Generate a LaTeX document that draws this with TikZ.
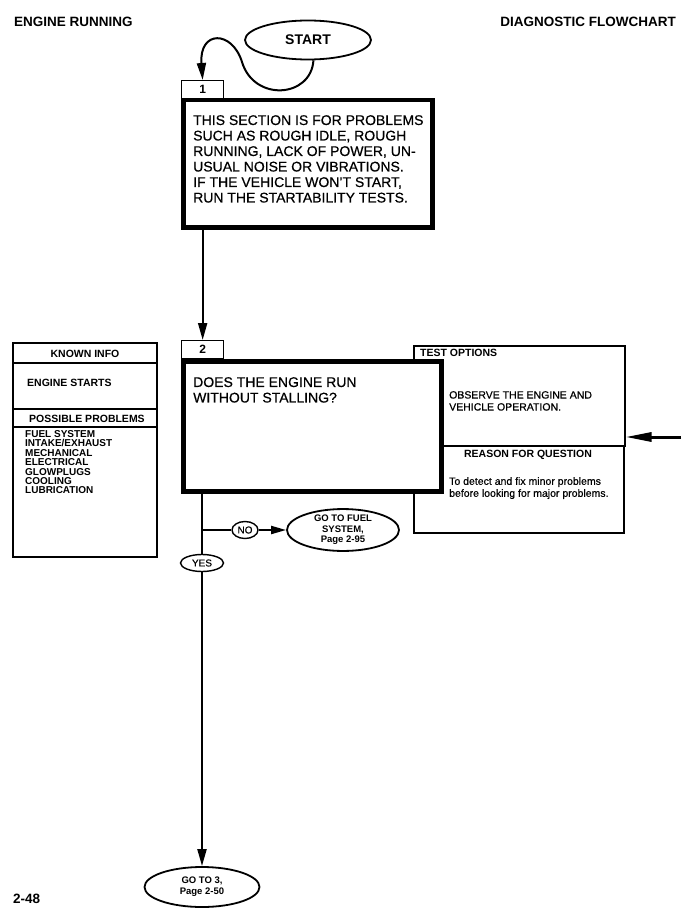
\documentclass[tikz,border=0pt]{standalone}
\usepackage{fontspec}
\setmainfont{Liberation Sans}[UprightFeatures={FakeBold=0.5}]
\usetikzlibrary{arrows.meta,shapes.geometric,calc}
\begin{document}
\begin{tikzpicture}[x=1pt,y=-1pt,
  hdr/.style={font=\fontsize{13.5}{15}\selectfont\bfseries, inner sep=0},
  thickbox/.style={draw, line width=4.5pt, fill=white, rectangle, inner sep=0, anchor=north west},
  tabbox/.style={draw, line width=1.3pt, fill=white, rectangle, inner sep=0, anchor=north west, minimum width=42pt, minimum height=18pt, font=\fontsize{12}{12}\selectfont\bfseries},
  thinbox/.style={draw, line width=1.4pt, rectangle, inner sep=0, anchor=north west},
  bubble/.style={draw, line width=1.8pt, ellipse, fill=white, inner sep=0, align=center},
  smallbubble/.style={draw, line width=1.4pt, ellipse, fill=white, inner sep=0, font=\fontsize{10}{10}\selectfont},
  conn/.style={line width=2pt},
  arr/.style={conn, -{Triangle[length=17pt,width=9pt]}},
  btext/.style={font=\fontsize{14}{15.5}\selectfont, align=left, inner sep=0, anchor=north west},
  ptext/.style={font=\fontsize{10}{9.4}\selectfont\bfseries, align=left, inner sep=0},
  phead/.style={font=\fontsize{10.5}{10.5}\selectfont\bfseries, inner sep=0},
  rtext/.style={font=\fontsize{10.5}{12}\selectfont, align=left, inner sep=0, anchor=north west},
]
\fill[white] (0,0) rectangle (689,920);
\useasboundingbox (0,0) rectangle (689,920);

% headers
\node[hdr, anchor=west] (h1) at (14,22) {ENGINE RUNNING};
\node[hdr, anchor=east] (h2) at (676,22) {DIAGNOSTIC FLOWCHART};
\node[hdr, anchor=west] (pg) at (13,899) {2-48};

% start
\node[bubble, minimum width=126pt, minimum height=39pt, font=\fontsize{14}{14}\selectfont\bfseries] (start) at (308,40) {START};

% box 1
\node[tabbox] (tab1) at (181,80) {1};
\node[thickbox, minimum width=249pt, minimum height=127pt] (box1) at (181,98) {};
\node[btext] (t1) at (193,115) {THIS SECTION IS FOR PROBLEMS\\SUCH AS ROUGH IDLE, ROUGH\\RUNNING, LACK OF POWER, UN-\\USUAL NOISE OR VIBRATIONS.\\IF THE VEHICLE WON'T START,\\RUN THE STARTABILITY TESTS.};

\draw[arr] (start.285) .. controls (311,98) and (254,102) .. (242,62) .. controls (232,30) and (199,30) .. (tab1.north);

% left panel
\draw[line width=1.4pt] (13,343) rectangle (157,557);
\draw[line width=1.4pt] (13,363) -- (157,363);
\draw[line width=1.4pt] (13,409) -- (157,409);
\draw[line width=1.4pt] (13,427) -- (157,427);
\node[phead] (kinfo) at (85,353.5) {KNOWN INFO};
\node[phead, anchor=west] (kstart) at (27,383) {ENGINE STARTS};
\node[phead] (pp) at (87,418.5) {POSSIBLE PROBLEMS};
\node[ptext, anchor=north west] (plist) at (25,430.3) {FUEL SYSTEM\\INTAKE/EXHAUST\\MECHANICAL\\ELECTRICAL\\GLOWPLUGS\\COOLING\\LUBRICATION};

% right panel
\node[thinbox, line width=1.5pt, minimum width=211pt, minimum height=100pt] (topt) at (413,345) {};
\node[thinbox, line width=1.5pt, minimum width=210pt, minimum height=87pt] (reason) at (413,445) {};
\node[phead, anchor=west] (tot) at (420,353) {TEST OPTIONS};
\node[rtext] (tob) at (449,391) {OBSERVE THE ENGINE AND\\VEHICLE OPERATION.};
\node[phead] (rq) at (528,455) {REASON FOR QUESTION};
\node[rtext] (rqt) at (449,477) {To detect and fix minor problems\\before looking for major problems.};
\coordinate (rin) at (681,437);
\draw[line width=3pt, -{Triangle[length=26pt,width=9pt]}] (rin) -- (rin -| topt.east);

% box 2
\draw[arr] (box1.south -| tab1.north) -- (tab1.north |- 0,340);
\node[tabbox] (tab2) at (181,340) {2};
\node[thickbox, minimum width=258pt, minimum height=130pt] (box2) at (181,359) {};
\node[btext] (t2) at (193,377) {DOES THE ENGINE RUN\\WITHOUT STALLING?};

% outputs
\coordinate (v2) at (202,489);
\coordinate (br) at (202,530);
\node[bubble, minimum width=115pt, minimum height=40pt, font=\fontsize{9.5}{11}\selectfont\bfseries] (go3) at (202,887) {GO TO 3,\\Page 2-50};
\draw[arr] (v2) -- (go3.north);
\node[smallbubble, minimum width=43pt, minimum height=17pt] (yes) at (202,563) {YES};
\node[smallbubble, minimum width=26pt, minimum height=17pt] (no) at (245,530) {NO};
\node[bubble, minimum width=112pt, minimum height=37pt, font=\fontsize{9.5}{10.5}\selectfont\bfseries] (fuel) at (343,530) {GO TO FUEL\\SYSTEM,\\Page 2-95};
\draw[conn] (br) -- (no);
\draw[conn, -{Triangle[length=15pt,width=8pt]}] (no) -- (fuel);
\end{tikzpicture}
\end{document}
